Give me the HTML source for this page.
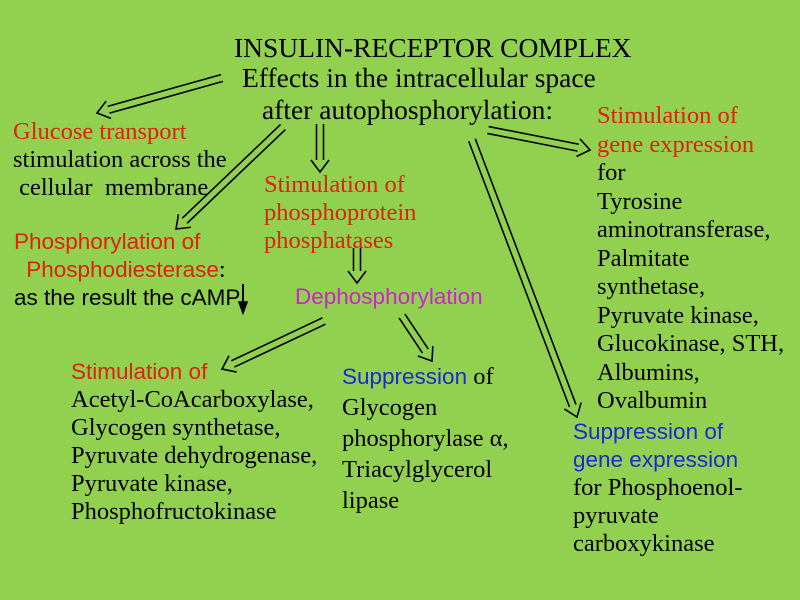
<!DOCTYPE html>
<html><head><meta charset="utf-8"><style>
body{margin:0;width:800px;height:600px;background:#92d050;position:relative;overflow:hidden;font-family:"Liberation Serif",serif;font-size:24.5px;color:#000}
.t{position:absolute;white-space:nowrap;line-height:28px}
.r{color:#e0200a}.b{color:#1a2ad0}.m{color:#d020d0}
.s{font-family:"Liberation Sans",sans-serif;font-size:22.5px}
svg{position:absolute;left:0;top:0}
.h{font-size:27.5px;line-height:30px}
</style></head><body>
<div class="t h" style="left:234px;top:33px">INSULIN-RECEPTOR COMPLEX</div>
<div class="t h" style="left:242px;top:63px">Effects in the intracellular space</div>
<div class="t h" style="left:262px;top:95px">after autophosphorylation:</div>

<div class="t" style="left:13px;top:118px"><span class="r">Glucose transport</span><br>stimulation across the<br>&nbsp;cellular&nbsp; membrane</div>
<div class="t" style="left:14px;top:228px"><span class="r s">Phosphorylation of</span><br>&nbsp;&nbsp;<span class="r s">Phosphodiesterase</span>:<br><span class="s">as the result the cAMP</span></div>
<div class="t" style="left:264px;top:171px"><span class="r">Stimulation of<br>phosphoprotein<br>phosphatases</span></div>
<div class="t s m" style="left:295px;top:283px">Dephosphorylation</div>
<div class="t" style="left:71px;top:358px"><span class="r s">Stimulation of</span><br>Acetyl-CoAcarboxylase,<br>Glycogen synthetase,<br>Pyruvate dehydrogenase,<br>Pyruvate kinase,<br>Phosphofructokinase</div>
<div class="t" style="left:342px;top:361px;line-height:31px"><span class="b s">Suppression</span> of<br>Glycogen<br>phosphorylase α,<br>Triacylglycerol<br>lipase</div>
<div class="t" style="left:597px;top:102px;line-height:28.5px"><span class="r">Stimulation of<br>gene expression</span><br>for<br>Tyrosine<br>aminotransferase,<br>Palmitate<br>synthetase,<br>Pyruvate kinase,<br>Glucokinase, STH,<br>Albumins,<br>Ovalbumin</div>
<div class="t" style="left:573px;top:418px"><span class="b s">Suppression of<br>gene expression</span><br>for Phosphoenol-<br>pyruvate<br>carboxykinase</div>

<svg width="800" height="600" fill="none" stroke="#000" stroke-width="1.6" id="s"></svg>
<script>
var A=[[222,78,97,113],[283,127,176,229],[320,124,320,172],[357,248,357,283],[324,321,222,369],[402,316,432,361],[488,130,590,150],[472,140,577,417]];
var s=document.getElementById('s'),h='';
A.forEach(function(a){var dx=a[2]-a[0],dy=a[3]-a[1],L=Math.hypot(dx,dy),ux=dx/L,uy=dy/L,px=-uy,py=ux,o=3.5,hl=12,hw=9;
var bx=a[2]-ux*hl,by=a[3]-uy*hl;
h+='<line x1="'+(a[0]+px*o)+'" y1="'+(a[1]+py*o)+'" x2="'+(bx+px*o)+'" y2="'+(by+py*o)+'"/>';
h+='<line x1="'+(a[0]-px*o)+'" y1="'+(a[1]-py*o)+'" x2="'+(bx-px*o)+'" y2="'+(by-py*o)+'"/>';
h+='<polyline points="'+(bx+px*hw)+','+(by+py*hw)+' '+a[2]+','+a[3]+' '+(bx-px*hw)+','+(by-py*hw)+'"/>';});
h+='<line x1="243" y1="284" x2="243" y2="306" stroke-width="2"/><polygon points="239,302 247,302 243,313" fill="#000"/>';
s.innerHTML=h;
</script>
</body></html>
